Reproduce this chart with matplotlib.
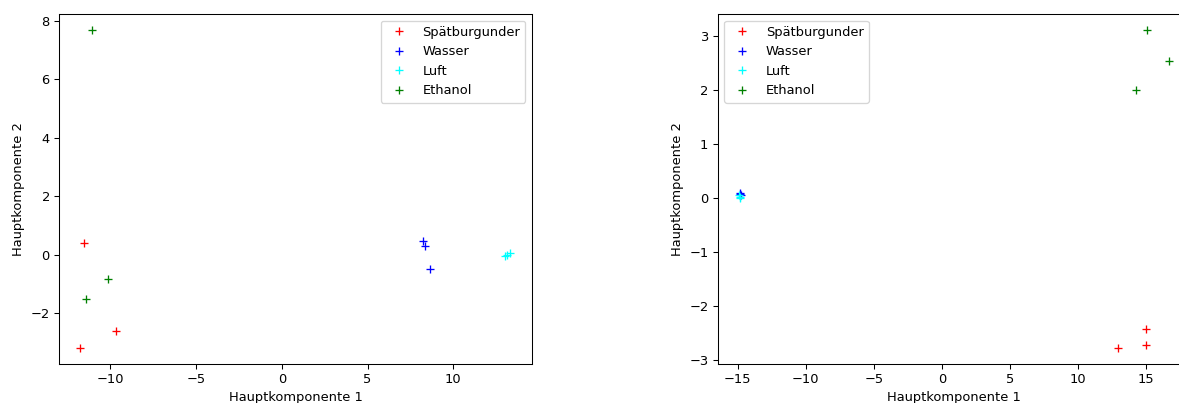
import matplotlib
matplotlib.use("Agg")
import matplotlib.pyplot as plt

labels = ["Spätburgunder", "Wasser", "Luft", "Ethanol"]
colors = ["red", "blue", "cyan", "green"]

# Left plot (PCA 1)
left_x = {
    "Spätburgunder": [-11.53, -9.64, -11.74],
    "Wasser": [8.24, 8.34, 8.63],
    "Luft": [13.03, 13.12, 13.33],
    "Ethanol": [-11.04, -10.13, -11.43],
}
left_y = {
    "Spätburgunder": [0.40, -2.59, -3.19],
    "Wasser": [0.46, 0.29, -0.48],
    "Luft": [-0.06, -0.01, 0.06],
    "Ethanol": [7.68, -0.82, -1.51],
}

# Right plot (PCA 2)
right_x = {
    "Spätburgunder": [14.97, 14.97, 12.94],
    "Wasser": [-14.80, -14.75, -14.82],
    "Luft": [-14.90, -14.85, -14.80],
    "Ethanol": [15.08, 16.70, 14.28],
}
right_y = {
    "Spätburgunder": [-2.42, -2.73, -2.78],
    "Wasser": [0.10, 0.05, 0.08],
    "Luft": [0.05, 0.03, 0.00],
    "Ethanol": [3.12, 2.55, 2.01],
}

DPI = 94
fig = plt.figure(figsize=(1179 / DPI, 403 / DPI), dpi=DPI)
ax1 = fig.add_axes([0.050, 0.0968, 0.4012, 0.8685])
ax2 = fig.add_axes([0.6086, 0.0968, 0.4012, 0.8685])

for ax, xs, ys, loc in [(ax1, left_x, left_y, "upper right"),
                        (ax2, right_x, right_y, "upper left")]:
    for lab, col in zip(labels, colors):
        ax.plot(xs[lab], ys[lab], "+", color=col, label=lab)
    ax.set_xlabel("Hauptkomponente 1")
    ax.set_ylabel("Hauptkomponente 2")
    ax.legend(loc=loc)

fig.savefig("out.png", dpi=DPI)
